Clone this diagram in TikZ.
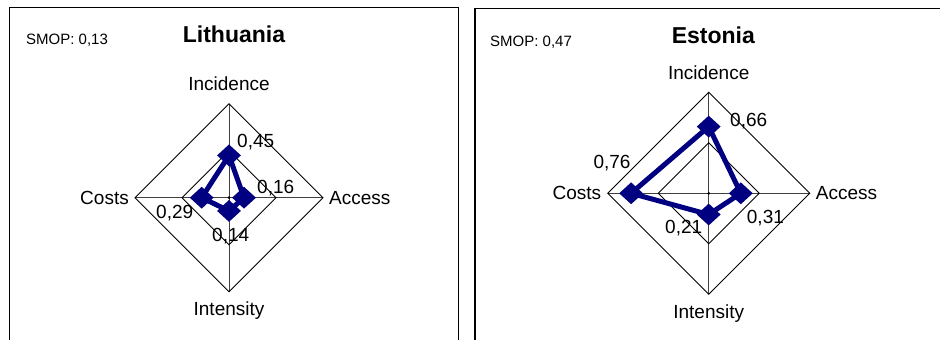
\documentclass[tikz,border=0pt]{standalone}
\usepackage{fontspec}
\setmainfont{Liberation Sans}
\usetikzlibrary{shapes.geometric}
\definecolor{seriesblue}{RGB}{0,0,128}
\tikzset{
  panel/.style={draw=black, line width=1.5pt},
  web/.style={draw=black, line width=0.9pt},
  spoke/.style={draw=black!75, line width=1pt},
  series/.style={draw=seriesblue, line width=5pt, line join=round},
  marker/.style={diamond, aspect=1, fill=seriesblue, inner sep=0pt,
                 minimum width=24pt, minimum height=22pt},
  axislabel/.style={inner sep=0pt, font=\fontsize{19}{22}\selectfont},
  vallabel/.style={inner sep=0pt, anchor=west, font=\fontsize{19}{22}\selectfont},
  charttitle/.style={inner sep=0pt, font=\fontsize{23}{26}\selectfont\bfseries},
  smop/.style={inner sep=0pt, anchor=west, font=\fontsize{15}{18}\selectfont},
}
\begin{document}
\begin{tikzpicture}[x=1pt, y=-1pt]
\useasboundingbox (0,0) rectangle (940,340);
\fill[white] (0,0) rectangle (940,340);

% ---------- Lithuania ----------
\draw[panel] (9.3,350) -- (9.3,7.5) -- (458.3,7.5) -- (458.3,350);
\node[charttitle] (tl) at (234,34) {Lithuania};
\node[smop] (sl) at (26,40.5) {SMOP: 0,13};

\coordinate (lc) at (229,197.7);
\coordinate (lN) at (229,103.7);
\coordinate (lE) at (323,197.7);
\coordinate (lS) at (229,291.7);
\coordinate (lW) at (135,197.7);
\coordinate (lN2) at (229,150.7);
\coordinate (lE2) at (276,197.7);
\coordinate (lS2) at (229,244.7);
\coordinate (lW2) at (182,197.7);
\draw[spoke] (lN) -- (lS);
\draw[spoke] (lW) -- (lE);
\draw[web] (lN) -- (lE) -- (lS) -- (lW) -- cycle;
\draw[web] (lN2) -- (lE2) -- (lS2) -- (lW2) -- cycle;
\fill (lc) circle (1.5);

\node[axislabel] (lInc) at (229,84) {Incidence};
\node[axislabel, anchor=west] (lAcc) at (329,197.7) {Access};
\node[axislabel, anchor=east] (lCos) at (129,197.7) {Costs};
\node[axislabel] (lInt) at (229,311) {Intensity};

\coordinate (lp1) at (229,155.4);
\coordinate (lp2) at (244,197.7);
\coordinate (lp3) at (229,210.9);
\coordinate (lp4) at (201.7,197.7);
\draw[series] (lp1) -- (lp2) -- (lp3) -- (lp4) -- cycle;
\node[marker] (lm1) at (lp1) {};
\node[marker] (lm2) at (lp2) {};
\node[marker] (lm3) at (lp3) {};
\node[marker] (lm4) at (lp4) {};

\node[vallabel] (lv1) at (237,142) {0,45};
\node[vallabel] (lv2) at (257,188) {0,16};
\node[vallabel] (lv3) at (212,236) {0,14};
\node[vallabel] (lv4) at (156,213) {0,29};

% ---------- Estonia ----------
\draw[panel] (475,350) -- (475,8.3) -- (945,8.3);
\node[charttitle] (te) at (713.3,35) {Estonia};
\node[smop] (se) at (490,42.3) {SMOP: 0,47};

\coordinate (ec) at (708.7,193.3);
\coordinate (eN) at (708.7,92.3);
\coordinate (eE) at (809.7,193.3);
\coordinate (eS) at (708.7,294.3);
\coordinate (eW) at (607.7,193.3);
\coordinate (eN2) at (708.7,142.8);
\coordinate (eE2) at (759.2,193.3);
\coordinate (eS2) at (708.7,243.8);
\coordinate (eW2) at (658.2,193.3);
\draw[spoke] (eN) -- (eS);
\draw[spoke] (eW) -- (eE);
\draw[web] (eN) -- (eE) -- (eS) -- (eW) -- cycle;
\draw[web] (eN2) -- (eE2) -- (eS2) -- (eW2) -- cycle;
\fill (ec) circle (1.5);

\node[axislabel] (eInc) at (708.7,72.3) {Incidence};
\node[axislabel, anchor=west] (eAcc) at (815.7,193.3) {Access};
\node[axislabel, anchor=east] (eCos) at (601.3,193.3) {Costs};
\node[axislabel] (eInt) at (708.7,313.3) {Intensity};

\coordinate (ep1) at (708.7,126.6);
\coordinate (ep2) at (740.8,193.3);
\coordinate (ep3) at (708.7,214.5);
\coordinate (ep4) at (631.1,193.3);
\draw[series] (ep1) -- (ep2) -- (ep3) -- (ep4) -- cycle;
\node[marker] (em1) at (ep1) {};
\node[marker] (em2) at (ep2) {};
\node[marker] (em3) at (ep3) {};
\node[marker] (em4) at (ep4) {};

\node[vallabel] (ev1) at (730,121) {0,66};
\node[vallabel] (ev2) at (746.7,218.3) {0,31};
\node[vallabel] (ev3) at (665,227.7) {0,21};
\node[vallabel] (ev4) at (593.3,163.3) {0,76};
\end{tikzpicture}
\end{document}
